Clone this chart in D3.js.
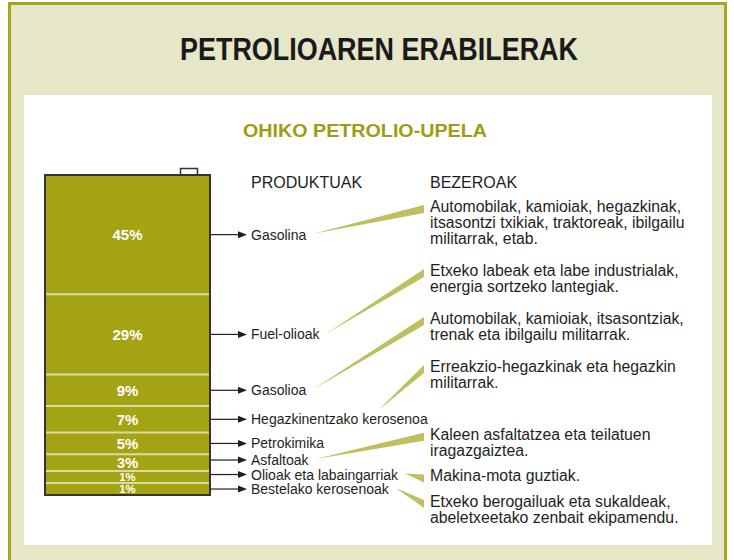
<!DOCTYPE html>
<html>
<head>
<meta charset="utf-8">
<script src="https://cdn.jsdelivr.net/npm/d3@7"></script>
<style>
body { margin: 0; background: #fff; }
text { font-family: "Liberation Sans", Arial, sans-serif; }
</style>
</head>
<body>
<div id="chart"></div>
<script>
// Chart texts
var title = "PETROLIOAREN ERABILERAK";
var subtitle = "OHIKO PETROLIO-UPELA";
var headers = ["PRODUKTUAK", "BEZEROAK"];

// Barrel products, top to bottom, and their share (%)
var products = ["Gasolina", "Fuel-olioak", "Gasolioa", "Hegazkinentzako kerosenoa",
    "Petrokimika", "Asfaltoak", "Olioak eta labaingarriak", "Bestelako kerosenoak"];
var shares = [45, 29, 9, 7, 5, 3, 1, 1];

// Customers of each product (null = none shown)
var clients = [
    ["Automobilak, kamioiak, hegazkinak,", "itsasontzi txikiak, traktoreak, ibilgailu", "militarrak, etab."],
    ["Etxeko labeak eta labe industrialak,", "energia sortzeko lantegiak."],
    ["Automobilak, kamioiak, itsasontziak,", "trenak eta ibilgailu militarrak."],
    ["Erreakzio-hegazkinak eta hegazkin", "militarrak."],
    null,
    ["Kaleen asfaltatzea eta teilatuen", "iragazgaiztea."],
    ["Makina-mota guztiak."],
    ["Etxeko berogailuak eta sukaldeak,", "abeletxeetako zenbait ekipamendu."]
];

function init() {
    var w = 734;
    var h = 560;

    var svg = d3.select("#chart")
        .append("svg")
        .attr("width", w)
        .attr("height", h);

    // Outer frame and white panel
    svg.append("rect")
        .attr("x", 9.5).attr("y", 3.5)
        .attr("width", 716).attr("height", 570)
        .attr("fill", "#e6e6c8")
        .attr("stroke", "#a6a61c")
        .attr("stroke-width", 3);

    svg.append("rect")
        .attr("x", 24).attr("y", 95)
        .attr("width", 688).attr("height", 450)
        .attr("fill", "#fff");

    svg.append("text")
        .attr("x", 379).attr("y", 60)
        .attr("text-anchor", "middle")
        .attr("font-size", 32).attr("font-weight", "bold")
        .attr("textLength", 398).attr("lengthAdjust", "spacingAndGlyphs")
        .attr("fill", "#1a1a1a")
        .text(title);

    svg.append("text")
        .attr("x", 365).attr("y", 137)
        .attr("text-anchor", "middle")
        .attr("font-size", 19).attr("font-weight", "bold")
        .attr("textLength", 244).attr("lengthAdjust", "spacingAndGlyphs")
        .attr("fill", "#9d9d12")
        .text(subtitle);

    svg.selectAll("text.header")
        .data(headers)
        .enter()
        .append("text")
        .attr("class", "header")
        .attr("x", function (d, i) { return i === 0 ? 251 : 430; })
        .attr("y", 188)
        .attr("font-size", 16)
        .attr("fill", "#1e1e1e")
        .text(function (d) { return d; });

    // Barrel geometry: each layer gets a minimum height plus a share-proportional part
    var barrelX = 45, barrelW = 165, barrelTop = 175, barrelH = 320, minH = 9.5;
    var hScale = d3.scaleLinear()
        .domain([0, d3.sum(shares)])
        .range([0, barrelH - shares.length * minH]);

    var segs = [];
    var acc = barrelTop;
    shares.forEach(function (v, i) {
        var hh = minH + hScale(v);
        segs.push({ idx: i, name: products[i], value: v, y0: acc, h: hh, cy: acc + hh / 2, client: clients[i] });
        acc += hh;
    });

    // Label rows: centred on their layer, pushed up so they keep a minimum gap
    var labelGap = 14.5;
    for (var i = segs.length - 1; i >= 0; i--) {
        segs[i].ly = i === segs.length - 1 ? segs[i].cy : Math.min(segs[i].cy, segs[i + 1].ly - labelGap);
    }

    // Cap of the barrel
    svg.append("rect")
        .attr("x", 180.5).attr("y", 168.5)
        .attr("width", 17).attr("height", 7)
        .attr("fill", "#fff")
        .attr("stroke", "#333")
        .attr("stroke-width", 1.5);

    svg.append("clipPath").attr("id", "barrelClip")
        .append("rect")
        .attr("x", barrelX).attr("y", barrelTop)
        .attr("width", barrelW).attr("height", barrelH);

    var barrel = svg.append("g").attr("clip-path", "url(#barrelClip)");

    barrel.selectAll("rect.seg")
        .data(segs)
        .enter()
        .append("rect")
        .attr("class", "seg")
        .attr("x", barrelX)
        .attr("y", function (d) { return d.y0; })
        .attr("width", barrelW)
        .attr("height", function (d) { return d.h; })
        .attr("fill", "#a3a313");

    barrel.selectAll("line.sep")
        .data(segs.slice(1))
        .enter()
        .append("line")
        .attr("class", "sep")
        .attr("x1", barrelX).attr("x2", barrelX + barrelW)
        .attr("y1", function (d) { return d.y0; })
        .attr("y2", function (d) { return d.y0; })
        .attr("stroke", "#dcdca2")
        .attr("stroke-width", 2);

    function pctSize(d) { return Math.min(15, d.h * 0.95); }

    barrel.selectAll("text.pct")
        .data(segs)
        .enter()
        .append("text")
        .attr("class", "pct")
        .attr("x", barrelX + barrelW / 2)
        .attr("y", function (d) { return d.cy + 0.36 * pctSize(d); })
        .attr("text-anchor", "middle")
        .attr("font-size", pctSize)
        .attr("font-weight", "bold")
        .attr("fill", "#fff")
        .text(function (d) { return d.value + "%"; });

    svg.append("rect")
        .attr("x", barrelX).attr("y", barrelTop)
        .attr("width", barrelW).attr("height", barrelH)
        .attr("fill", "none")
        .attr("stroke", "#333")
        .attr("stroke-width", 2);

    // Arrows to the product labels
    var right = barrelX + barrelW;
    svg.selectAll("line.arrow")
        .data(segs)
        .enter()
        .append("line")
        .attr("class", "arrow")
        .attr("x1", right + 1).attr("x2", 240)
        .attr("y1", function (d) { return d.ly; })
        .attr("y2", function (d) { return d.ly; })
        .attr("stroke", "#1e1e1e")
        .attr("stroke-width", 1.2);

    svg.selectAll("path.head")
        .data(segs)
        .enter()
        .append("path")
        .attr("class", "head")
        .attr("d", function (d) {
            return "M238," + (d.ly - 3.5) + "L247," + d.ly + "L238," + (d.ly + 3.5) + "Z";
        })
        .attr("fill", "#1e1e1e");

    var wedgeLayer = svg.append("g");

    var labels = svg.selectAll("text.prod")
        .data(segs)
        .enter()
        .append("text")
        .attr("class", "prod")
        .attr("x", 251)
        .attr("y", function (d) { return d.ly + 5; })
        .attr("font-size", 14)
        .attr("fill", "#1e1e1e")
        .text(function (d) { return d.name; });

    labels.each(function (d) { d.textLen = this.getComputedTextLength(); });

    // Customer blocks: the upper ones stack down from the header,
    // the lower ones stack up from the bottom of the panel
    var withClients = segs.filter(function (d) { return d.client; });
    var firstBase = 212, lastBase = 523, lineH = 16, clientX = 430;
    var upper = withClients.filter(function (d) { return d.idx < 4; });
    var lower = withClients.filter(function (d) { return d.idx >= 4; });
    var yb = firstBase;
    upper.forEach(function (d) {
        d.base = yb;
        yb += (d.client.length - 1) * lineH + 2 * lineH;
    });
    yb = lastBase;
    lower.slice().reverse().forEach(function (d) {
        d.base = yb - (d.client.length - 1) * lineH;
        yb = d.base - 1.6 * lineH;
    });

    // Wedges from product labels to customers
    wedgeLayer.selectAll("path.wedge")
        .data(withClients)
        .enter()
        .append("path")
        .attr("class", "wedge")
        .attr("d", function (d) {
            var tx = 251 + d.textLen + 7, ty = d.ly - 1;
            if (tx > clientX - 14) { tx = 251 + d.textLen * 0.72; ty = d.ly - 9; }
            var by = d.base - 3;
            return "M" + tx + "," + ty + "L" + (clientX - 6) + "," + (by - 4) +
                "L" + (clientX - 6) + "," + (by + 4) + "Z";
        })
        .attr("fill", "#c0bf60");

    var blocks = svg.selectAll("text.client")
        .data(withClients)
        .enter()
        .append("text")
        .attr("class", "client")
        .attr("font-size", 15.8)
        .attr("fill", "#1e1e1e");

    blocks.selectAll("tspan")
        .data(function (d) { return d.client.map(function (t, i) { return { t: t, y: d.base + i * lineH }; }); })
        .enter()
        .append("tspan")
        .attr("x", clientX)
        .attr("y", function (d) { return d.y; })
        .text(function (d) { return d.t; });
}

window.onload = init;
</script>
</body>
</html>
